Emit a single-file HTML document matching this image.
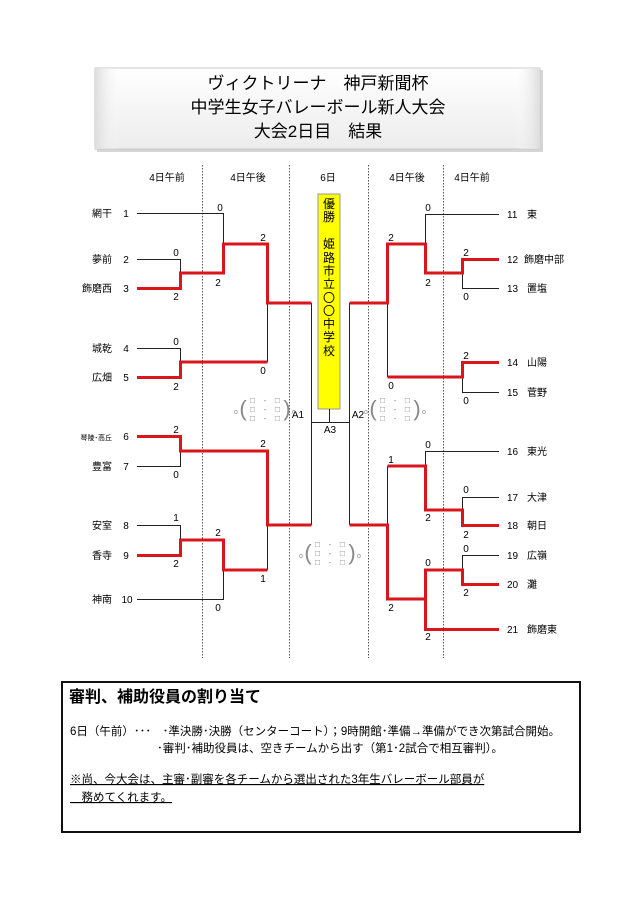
<!DOCTYPE html>
<html><head><meta charset="utf-8"><style>
body{margin:0;background:#fff;}
svg{display:block;font-family:"Liberation Sans","Noto Sans CJK JP",sans-serif;}
</style></head><body>
<svg width="638" height="903" viewBox="0 0 638 903" xmlns="http://www.w3.org/2000/svg">
<defs>
<linearGradient id="tg" x1="0" y1="0" x2="0" y2="1"><stop offset="0" stop-color="#ffffff"/><stop offset="1" stop-color="#ececec"/></linearGradient>
<linearGradient id="lg" x1="0" y1="0" x2="1" y2="0"><stop offset="0" stop-color="#dcdcdc"/><stop offset="0.06" stop-color="#fff" stop-opacity="0"/><stop offset="0.94" stop-color="#fff" stop-opacity="0"/><stop offset="1" stop-color="#dcdcdc"/></linearGradient>
</defs>
<!-- title -->
<rect x="97" y="70" width="446" height="82" fill="#bbb" opacity="0.6"/>
<rect x="95" y="68" width="445" height="81" fill="url(#tg)" stroke="#c8c8c8"/>
<rect x="95" y="68" width="445" height="81" fill="url(#lg)"/>
<g font-size="17" text-anchor="middle" fill="#000">
<text x="318" y="89">ヴィクトリーナ　神戸新聞杯</text>
<text x="318" y="113">中学生女子バレーボール新人大会</text>
<text x="318" y="137">大会2日目　結果</text>
</g>
<!-- dotted -->
<g stroke="#555" stroke-width="1" stroke-dasharray="1.5,1.5">
<line x1="202.5" y1="165" x2="202.5" y2="658"/><line x1="289.5" y1="165" x2="289.5" y2="658"/>
<line x1="368.5" y1="165" x2="368.5" y2="658"/><line x1="443.5" y1="165" x2="443.5" y2="658"/>
</g>
<g font-size="10" text-anchor="middle" fill="#000">
<text x="167" y="181">4日午前</text><text x="248" y="181">4日午後</text><text x="328" y="181">6日</text>
<text x="407" y="181">4日午後</text><text x="472" y="181">4日午前</text>
</g>
<!-- yellow -->
<rect x="318" y="194" width="22" height="215" fill="#ffff00" stroke="#999" stroke-width="1"/>
<g font-size="12" text-anchor="middle" fill="#000">
<text x="329" y="208">優</text><text x="329" y="221">勝</text>
<text x="329" y="248">姫</text><text x="329" y="262">路</text><text x="329" y="275">市</text><text x="329" y="288">立</text>
<text x="329" y="302">〇</text><text x="329" y="315">〇</text><text x="329" y="328">中</text><text x="329" y="341">学</text><text x="329" y="355">校</text>
</g>
<!-- black lines -->
<g stroke="#222" stroke-width="1" fill="none">
<path d="M329.5 409V422.5M311.5 422.5H349.5M311.5 303V525M349.5 303V525"/>
<path d="M137 213.5H223.5V244M137 259.5H180.5V273M223.5 273V244"/>
<path d="M137 348.5H180.5V362M267.5 303V362"/>
<path d="M137 466.5H180.5V451M137 525.5H180.5V540M267.5 525V570M137 599.5H223.5V570M267.5 451V570"/>
<path d="M499 214.5H425.5V273M499 288.5H462.5V273M499 392.5H462.5V377M387.5 303V377"/>
<path d="M499 451.5H425.5V510M499 497.5H462.5V510M387.5 466V525M499 555.5H462.5V570"/>
</g>
<!-- red -->
<g stroke="#d9161c" stroke-width="3" fill="none">
<path d="M137 288.5H180.5V273H223.5V244H267.5V303H311.5"/>
<path d="M137 377.5H180.5V362H267.5"/>
<path d="M137 436.5H180.5V451H267.5V525H311.5"/>
<path d="M137 555.5H180.5V540H223.5V570H267.5"/>
<path d="M499 259.5H462.5V273H425.5V244H387.5V303H349.5"/>
<path d="M499 362.5H462.5V377H387.5"/>
<path d="M499 525.5H462.5V510H425.5V466H387.5"/>
<path d="M349.5 525H387.5V599H425.5V629.5H499"/>
<path d="M499 584.5H462.5V570H425.5V599"/>
</g>
<!-- team labels -->
<g font-size="10" fill="#000">
<g text-anchor="end">
<text x="112" y="217">網干</text><text x="112" y="263">夢前</text><text x="112" y="292">飾磨西</text>
<text x="112" y="352">城乾</text><text x="112" y="381">広畑</text><text x="112" y="440" font-size="7">琴陵･高丘</text>
<text x="112" y="470">豊富</text><text x="112" y="529">安室</text><text x="112" y="559">香寺</text><text x="112" y="603">神南</text>
</g>
<g text-anchor="middle">
<text x="126" y="217">1</text><text x="126" y="263">2</text><text x="126" y="292">3</text><text x="126" y="352">4</text><text x="126" y="381">5</text>
<text x="126" y="440">6</text><text x="126" y="470">7</text><text x="126" y="529">8</text><text x="126" y="559">9</text><text x="127" y="603">10</text>
</g>
<text x="507" y="218">11</text><text x="527" y="218">東</text>
<text x="507" y="263">12</text><text x="524" y="263">飾磨中部</text>
<text x="507" y="292">13</text><text x="527" y="292">置塩</text>
<text x="507" y="366">14</text><text x="527" y="366">山陽</text>
<text x="507" y="396">15</text><text x="527" y="396">菅野</text>
<text x="507" y="455">16</text><text x="527" y="455">東光</text>
<text x="507" y="501">17</text><text x="527" y="501">大津</text>
<text x="507" y="529">18</text><text x="527" y="529">朝日</text>
<text x="507" y="559">19</text><text x="527" y="559">広嶺</text>
<text x="507" y="588">20</text><text x="527" y="588">灘</text>
<text x="507" y="633">21</text><text x="527" y="633">飾磨東</text>
</g>
<!-- scores -->
<g font-size="10" fill="#000" text-anchor="middle">
<text x="220" y="211">0</text><text x="263" y="241">2</text><text x="176" y="256">0</text><text x="218" y="286">2</text>
<text x="176" y="300">2</text><text x="176" y="345">0</text><text x="176" y="390">2</text><text x="263" y="374">0</text>
<text x="176" y="433">2</text><text x="176" y="478">0</text><text x="263" y="447">2</text><text x="176" y="521">1</text>
<text x="218" y="536">2</text><text x="176" y="567">2</text><text x="263" y="582">1</text><text x="218" y="611">0</text>
<text x="428" y="211">0</text><text x="391" y="241">2</text><text x="466" y="256">2</text><text x="428" y="286">2</text>
<text x="466" y="300">0</text><text x="466" y="359">2</text><text x="391" y="389">0</text><text x="466" y="404">0</text>
<text x="428" y="448">0</text><text x="391" y="463">1</text><text x="466" y="493">0</text><text x="428" y="521">2</text>
<text x="466" y="538">2</text><text x="466" y="552">0</text><text x="428" y="566">0</text><text x="466" y="596">2</text>
<text x="391" y="611">2</text><text x="428" y="640">2</text>
</g>
<g font-size="10" fill="#000" text-anchor="middle">
<text x="298" y="418">A1</text><text x="358" y="418">A2</text><text x="330" y="433">A3</text>
</g>
<!-- placeholders -->
<g fill="#888" text-anchor="middle">
<g transform="translate(265,408)"><g font-size="8.5"><text x="0" y="-5">□　-　□</text><text x="0" y="4">□　-　□</text><text x="0" y="13">□　-　□</text></g><text x="-22" y="8" font-size="22" font-weight="100">(</text><text x="22" y="8" font-size="22">)</text><text x="-29" y="6" font-size="7">o</text><text x="29" y="6" font-size="7">o</text></g>
<g transform="translate(395,408)"><g font-size="8.5"><text x="0" y="-5">□　-　□</text><text x="0" y="4">□　-　□</text><text x="0" y="13">□　-　□</text></g><text x="-22" y="8" font-size="22">(</text><text x="22" y="8" font-size="22">)</text><text x="-29" y="6" font-size="7">o</text><text x="29" y="6" font-size="7">o</text></g>
<g transform="translate(330,552)"><g font-size="8.5"><text x="0" y="-5">□　-　□</text><text x="0" y="4">□　-　□</text><text x="0" y="13">□　-　□</text></g><text x="-22" y="8" font-size="22">(</text><text x="22" y="8" font-size="22">)</text><text x="-29" y="6" font-size="7">o</text><text x="29" y="6" font-size="7">o</text></g>
</g>
<!-- bottom box -->
<rect x="62" y="682" width="518" height="150" fill="#fff" stroke="#111" stroke-width="2"/>
<text x="69" y="702" font-size="16" font-weight="bold" fill="#000">審判、補助役員の割り当て</text>
<g font-size="11.5" fill="#000">
<text x="70" y="735">6日（午前）･･･　･準決勝･決勝（センターコート）；9時開館･準備→準備ができ次第試合開始。</text>
<text x="157" y="752">･審判･補助役員は、空きチームから出す（第1･2試合で相互審判）。</text>
<text x="70" y="783" text-decoration="underline">※尚、今大会は、主審･副審を各チームから選出された3年生バレーボール部員が</text>
<text x="70" y="801" text-decoration="underline">　務めてくれます。</text>
</g>
</svg>
</body></html>
